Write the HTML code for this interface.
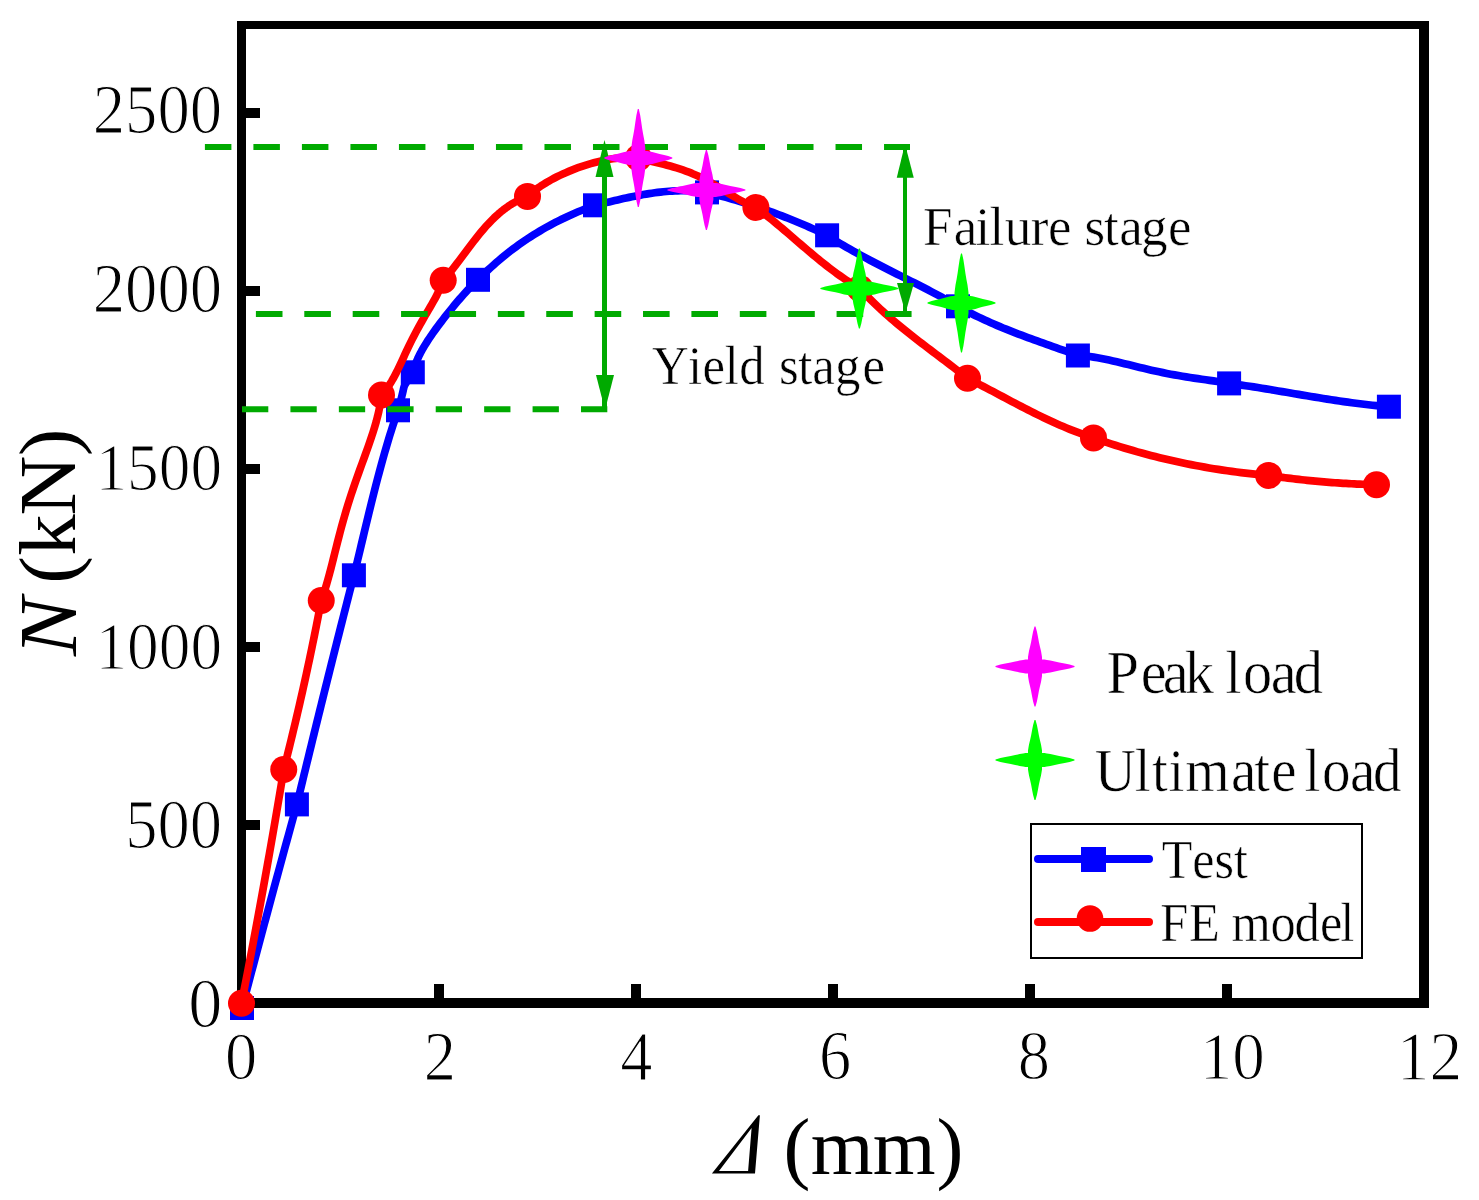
<!DOCTYPE html><html><head><meta charset="utf-8"><style>html,body{margin:0;padding:0;background:#fff;width:1479px;height:1200px;overflow:hidden}svg{display:block}text{font-family:"Liberation Serif",serif;fill:#000}</style></head><body>
<svg width="1479" height="1200" viewBox="0 0 1479 1200">
<rect x="0" y="0" width="1479" height="1200" fill="#fff"/>
<g fill="#000">
<rect x="237" y="21" width="1192" height="8"/>
<rect x="237" y="21" width="9" height="987"/>
<rect x="1419" y="21" width="10" height="987"/>
<rect x="237" y="998" width="1192" height="10"/>
<rect x="434" y="984" width="10" height="14"/>
<rect x="631" y="984" width="10" height="14"/>
<rect x="828" y="984" width="10" height="14"/>
<rect x="1025" y="984" width="10" height="14"/>
<rect x="1222" y="984" width="10" height="14"/>
<rect x="246" y="820" width="14" height="10"/>
<rect x="246" y="642" width="14" height="10"/>
<rect x="246" y="464" width="14" height="10"/>
<rect x="246" y="286" width="14" height="10"/>
<rect x="246" y="108" width="14" height="10"/>
</g>
<path d="M242.00 1008.00 L243.38 1002.77 L244.75 997.54 L246.13 992.30 L247.51 987.07 L248.90 981.84 L250.28 976.61 L251.66 971.39 L253.05 966.16 L254.44 960.93 L255.83 955.70 L257.22 950.48 L258.62 945.25 L260.01 940.03 L261.41 934.80 L262.81 929.58 L264.21 924.36 L265.62 919.13 L267.02 913.91 L268.43 908.69 L269.83 903.47 L271.24 898.25 L272.65 893.03 L274.07 887.81 L275.48 882.59 L276.90 877.38 L278.31 872.16 L279.73 866.94 L281.16 861.73 L282.58 856.51 L284.00 851.30 L285.43 846.09 L286.86 840.87 L288.29 835.66 L289.72 830.45 L291.15 825.24 L292.59 820.03 L294.02 814.82 L295.46 809.61 L296.90 804.40 L298.32 798.51 L299.74 792.63 L301.16 786.74 L302.59 780.85 L304.01 774.97 L305.44 769.08 L306.87 763.20 L308.31 757.32 L309.74 751.44 L311.18 745.55 L312.62 739.67 L314.07 733.79 L315.51 727.91 L316.96 722.03 L318.41 716.16 L319.86 710.28 L321.32 704.40 L322.77 698.53 L324.23 692.65 L325.69 686.78 L327.16 680.90 L328.62 675.03 L330.09 669.16 L331.56 663.29 L333.04 657.42 L334.51 651.55 L335.99 645.68 L337.47 639.81 L338.95 633.94 L340.44 628.07 L341.92 622.21 L343.41 616.34 L344.90 610.48 L346.40 604.61 L347.89 598.75 L349.39 592.88 L350.89 587.02 L352.39 581.16 L353.90 575.30 L354.95 571.05 L355.99 566.80 L357.02 562.55 L358.05 558.29 L359.08 554.04 L360.10 549.78 L361.12 545.51 L362.14 541.25 L363.16 536.99 L364.18 532.72 L365.21 528.46 L366.23 524.19 L367.26 519.93 L368.29 515.66 L369.32 511.40 L370.37 507.14 L371.41 502.88 L372.47 498.62 L373.54 494.36 L374.61 490.11 L375.69 485.86 L376.79 481.62 L377.90 477.37 L379.02 473.14 L380.15 468.90 L381.30 464.67 L382.47 460.45 L383.65 456.23 L384.85 452.02 L386.07 447.82 L387.31 443.62 L388.56 439.42 L389.84 435.24 L391.14 431.06 L392.46 426.89 L393.81 422.73 L395.18 418.58 L396.58 414.43 L398.00 410.30 L398.72 407.80 L399.37 405.49 L399.96 403.36 L400.49 401.41 L400.96 399.63 L401.39 398.01 L401.76 396.53 L402.09 395.19 L402.38 393.98 L402.64 392.89 L402.86 391.91 L403.06 391.03 L403.24 390.24 L403.39 389.54 L403.53 388.92 L403.66 388.35 L403.78 387.85 L403.90 387.39 L404.02 386.97 L404.14 386.58 L404.28 386.20 L404.42 385.84 L404.59 385.47 L404.77 385.10 L404.98 384.72 L405.22 384.30 L405.49 383.85 L405.80 383.35 L406.15 382.80 L406.54 382.19 L406.99 381.50 L407.49 380.73 L408.04 379.88 L408.66 378.92 L409.34 377.85 L410.09 376.66 L410.91 375.35 L411.82 373.90 L412.80 372.30 L413.60 369.46 L414.51 366.66 L415.51 363.91 L416.60 361.20 L417.78 358.52 L419.03 355.89 L420.34 353.28 L421.72 350.71 L423.16 348.17 L424.65 345.65 L426.18 343.16 L427.76 340.69 L429.37 338.24 L431.01 335.81 L432.68 333.40 L434.38 331.01 L436.10 328.63 L437.84 326.26 L439.60 323.91 L441.37 321.57 L443.15 319.25 L444.95 316.94 L446.76 314.63 L448.59 312.34 L450.42 310.07 L452.26 307.80 L454.12 305.55 L455.99 303.31 L457.87 301.08 L459.77 298.87 L461.69 296.67 L463.62 294.49 L465.58 292.33 L467.57 290.18 L469.58 288.06 L471.62 285.95 L473.71 283.88 L475.83 281.82 L478.00 279.80 L480.57 277.21 L483.16 274.66 L485.77 272.14 L488.40 269.66 L491.06 267.21 L493.74 264.80 L496.44 262.42 L499.17 260.08 L501.92 257.78 L504.69 255.51 L507.49 253.28 L510.30 251.08 L513.14 248.92 L516.01 246.80 L518.89 244.71 L521.80 242.66 L524.73 240.64 L527.69 238.66 L530.67 236.71 L533.67 234.80 L536.69 232.93 L539.73 231.09 L542.80 229.28 L545.89 227.52 L549.01 225.79 L552.14 224.09 L555.30 222.43 L558.49 220.81 L561.69 219.22 L564.92 217.66 L568.17 216.15 L571.44 214.67 L574.74 213.22 L578.06 211.81 L581.40 210.44 L584.77 209.10 L588.16 207.80 L591.57 206.53 L595.00 205.30 L597.82 204.62 L600.65 203.94 L603.47 203.26 L606.30 202.58 L609.13 201.90 L611.97 201.22 L614.80 200.56 L617.64 199.90 L620.48 199.25 L623.32 198.61 L626.16 197.98 L629.01 197.37 L631.86 196.77 L634.71 196.19 L637.56 195.63 L640.42 195.10 L643.28 194.58 L646.14 194.09 L649.01 193.63 L651.87 193.19 L654.74 192.78 L657.62 192.41 L660.50 192.07 L663.38 191.76 L666.26 191.49 L669.15 191.25 L672.04 191.06 L674.93 190.90 L677.83 190.79 L680.73 190.72 L683.63 190.70 L686.54 190.73 L689.45 190.81 L692.37 190.94 L695.28 191.12 L698.21 191.35 L701.13 191.64 L704.06 191.99 L707.00 192.40 L710.19 193.19 L713.38 194.00 L716.56 194.83 L719.74 195.67 L722.91 196.53 L726.07 197.40 L729.23 198.29 L732.38 199.20 L735.53 200.12 L738.67 201.06 L741.80 202.01 L744.93 202.99 L748.05 203.97 L751.17 204.98 L754.28 206.00 L757.38 207.03 L760.48 208.08 L763.57 209.15 L766.66 210.23 L769.74 211.33 L772.81 212.45 L775.88 213.58 L778.94 214.73 L781.99 215.90 L785.04 217.08 L788.09 218.27 L791.12 219.49 L794.16 220.71 L797.18 221.96 L800.20 223.22 L803.21 224.50 L806.22 225.79 L809.22 227.10 L812.22 228.43 L815.20 229.77 L818.19 231.13 L821.16 232.50 L824.14 233.89 L827.10 235.30 L830.32 237.38 L833.55 239.42 L836.80 241.43 L840.07 243.42 L843.35 245.37 L846.65 247.31 L849.95 249.21 L853.28 251.10 L856.61 252.96 L859.95 254.80 L863.31 256.63 L866.67 258.43 L870.04 260.23 L873.42 262.01 L876.80 263.77 L880.20 265.53 L883.59 267.27 L886.99 269.01 L890.40 270.74 L893.81 272.47 L897.21 274.19 L900.62 275.91 L904.04 277.63 L907.45 279.35 L910.86 281.08 L914.26 282.80 L917.67 284.54 L921.07 286.28 L924.46 288.03 L927.85 289.78 L931.24 291.55 L934.62 293.34 L937.99 295.13 L941.35 296.95 L944.70 298.78 L948.04 300.63 L951.37 302.49 L954.69 304.39 L958.00 306.30 L960.91 307.95 L963.84 309.56 L966.79 311.14 L969.74 312.69 L972.71 314.21 L975.69 315.70 L978.68 317.16 L981.69 318.59 L984.70 319.99 L987.73 321.37 L990.76 322.73 L993.81 324.07 L996.86 325.38 L999.93 326.67 L1003.00 327.94 L1006.08 329.19 L1009.16 330.43 L1012.25 331.65 L1015.35 332.85 L1018.46 334.05 L1021.57 335.22 L1024.68 336.39 L1027.80 337.55 L1030.92 338.69 L1034.05 339.83 L1037.18 340.96 L1040.31 342.08 L1043.44 343.20 L1046.58 344.32 L1049.71 345.43 L1052.85 346.54 L1055.98 347.65 L1059.12 348.76 L1062.25 349.87 L1065.39 350.99 L1068.52 352.11 L1071.65 353.23 L1074.78 354.36 L1077.90 355.50 L1081.86 355.72 L1085.80 356.07 L1089.72 356.53 L1093.62 357.08 L1097.51 357.72 L1101.39 358.43 L1105.25 359.20 L1109.11 360.02 L1112.96 360.89 L1116.81 361.79 L1120.65 362.71 L1124.48 363.65 L1128.32 364.59 L1132.16 365.54 L1135.99 366.49 L1139.83 367.43 L1143.67 368.35 L1147.51 369.26 L1151.36 370.14 L1155.21 371.00 L1159.06 371.84 L1162.92 372.64 L1166.79 373.42 L1170.66 374.16 L1174.53 374.88 L1178.41 375.57 L1182.30 376.23 L1186.19 376.87 L1190.08 377.48 L1193.98 378.08 L1197.88 378.65 L1201.78 379.22 L1205.69 379.78 L1209.59 380.35 L1213.50 380.91 L1217.40 381.50 L1221.31 382.10 L1225.21 382.73 L1229.10 383.40 L1233.20 383.94 L1237.31 384.51 L1241.41 385.09 L1245.50 385.69 L1249.60 386.30 L1253.69 386.93 L1257.78 387.57 L1261.87 388.23 L1265.96 388.89 L1270.05 389.56 L1274.13 390.24 L1278.22 390.93 L1282.30 391.62 L1286.39 392.31 L1290.47 393.01 L1294.55 393.71 L1298.64 394.40 L1302.72 395.10 L1306.81 395.78 L1310.89 396.47 L1314.98 397.15 L1319.07 397.82 L1323.15 398.48 L1327.25 399.13 L1331.34 399.77 L1335.43 400.40 L1339.53 401.01 L1343.62 401.60 L1347.72 402.18 L1351.83 402.74 L1355.93 403.28 L1360.04 403.80 L1364.15 404.29 L1368.27 404.76 L1372.39 405.21 L1376.51 405.62 L1380.64 406.01 L1384.77 406.37 L1388.90 406.70" fill="none" stroke="#0000ff" stroke-width="7.7" stroke-linejoin="round"/>
<rect x="230.00" y="996.00" width="24" height="24" fill="#0000ff"/>
<rect x="284.90" y="792.40" width="24" height="24" fill="#0000ff"/>
<rect x="341.90" y="563.30" width="24" height="24" fill="#0000ff"/>
<rect x="386.00" y="398.30" width="24" height="24" fill="#0000ff"/>
<rect x="400.80" y="360.30" width="24" height="24" fill="#0000ff"/>
<rect x="466.00" y="267.80" width="24" height="24" fill="#0000ff"/>
<rect x="583.00" y="193.30" width="24" height="24" fill="#0000ff"/>
<rect x="695.00" y="180.40" width="24" height="24" fill="#0000ff"/>
<rect x="815.10" y="223.30" width="24" height="24" fill="#0000ff"/>
<rect x="946.00" y="294.30" width="24" height="24" fill="#0000ff"/>
<rect x="1065.90" y="343.50" width="24" height="24" fill="#0000ff"/>
<rect x="1217.10" y="371.40" width="24" height="24" fill="#0000ff"/>
<rect x="1376.90" y="394.70" width="24" height="24" fill="#0000ff"/>
<path d="M241.50 1003.30 L242.67 997.32 L243.84 991.34 L245.01 985.35 L246.17 979.37 L247.33 973.39 L248.48 967.40 L249.62 961.42 L250.76 955.43 L251.90 949.44 L253.03 943.46 L254.16 937.47 L255.28 931.48 L256.40 925.49 L257.51 919.50 L258.62 913.51 L259.72 907.52 L260.82 901.52 L261.91 895.53 L263.00 889.53 L264.08 883.54 L265.16 877.54 L266.23 871.55 L267.30 865.55 L268.37 859.55 L269.43 853.55 L270.48 847.56 L271.53 841.56 L272.58 835.55 L273.62 829.55 L274.65 823.55 L275.68 817.55 L276.71 811.55 L277.73 805.54 L278.74 799.54 L279.75 793.53 L280.76 787.52 L281.76 781.52 L282.76 775.51 L283.75 769.50 L284.85 765.20 L285.93 760.89 L287.02 756.58 L288.09 752.28 L289.16 747.97 L290.22 743.66 L291.27 739.34 L292.32 735.03 L293.36 730.71 L294.39 726.39 L295.42 722.07 L296.44 717.75 L297.45 713.43 L298.45 709.11 L299.45 704.78 L300.44 700.46 L301.42 696.13 L302.40 691.80 L303.36 687.46 L304.33 683.13 L305.28 678.80 L306.23 674.46 L307.17 670.12 L308.10 665.78 L309.03 661.44 L309.95 657.10 L310.86 652.75 L311.76 648.41 L312.66 644.06 L313.55 639.71 L314.44 635.36 L315.31 631.01 L316.18 626.66 L317.04 622.30 L317.90 617.94 L318.75 613.58 L319.59 609.22 L320.42 604.86 L321.25 600.50 L323.08 595.31 L324.79 590.08 L326.40 584.82 L327.92 579.54 L329.37 574.24 L330.77 568.92 L332.14 563.60 L333.48 558.26 L334.81 552.93 L336.14 547.59 L337.48 542.26 L338.85 536.93 L340.24 531.61 L341.67 526.30 L343.14 521.00 L344.65 515.71 L346.20 510.44 L347.80 505.17 L349.46 499.92 L351.15 494.69 L352.89 489.46 L354.67 484.25 L356.49 479.05 L358.34 473.86 L360.20 468.67 L362.08 463.49 L363.97 458.31 L365.84 453.14 L367.70 447.95 L369.52 442.77 L371.29 437.57 L373.00 432.35 L374.62 427.12 L376.15 421.86 L377.55 416.57 L378.81 411.24 L379.90 405.88 L380.81 400.47 L381.50 395.00 L383.78 392.44 L385.91 389.79 L387.89 387.07 L389.76 384.28 L391.52 381.43 L393.19 378.54 L394.78 375.61 L396.32 372.64 L397.81 369.65 L399.26 366.63 L400.69 363.61 L402.10 360.57 L403.50 357.53 L404.91 354.49 L406.32 351.45 L407.75 348.42 L409.19 345.40 L410.66 342.40 L412.15 339.40 L413.67 336.42 L415.22 333.45 L416.79 330.50 L418.39 327.56 L420.02 324.64 L421.67 321.73 L423.34 318.83 L425.02 315.93 L426.71 313.05 L428.41 310.16 L430.09 307.27 L431.76 304.37 L433.41 301.46 L435.02 298.53 L436.58 295.58 L438.08 292.59 L439.51 289.57 L440.85 286.51 L442.08 283.38 L443.20 280.20 L445.21 277.95 L447.19 275.67 L449.15 273.34 L451.09 270.97 L453.00 268.58 L454.91 266.15 L456.80 263.71 L458.68 261.24 L460.55 258.76 L462.42 256.26 L464.29 253.76 L466.16 251.25 L468.04 248.75 L469.92 246.24 L471.81 243.75 L473.71 241.26 L475.63 238.80 L477.57 236.35 L479.53 233.92 L481.51 231.52 L483.52 229.16 L485.56 226.83 L487.63 224.53 L489.74 222.29 L491.89 220.08 L494.07 217.93 L496.30 215.84 L498.58 213.80 L500.91 211.83 L503.28 209.92 L505.72 208.08 L508.21 206.32 L510.76 204.63 L513.38 203.03 L516.06 201.52 L518.81 200.09 L521.63 198.76 L524.53 197.53 L527.50 196.40 L529.47 194.63 L531.54 192.88 L533.71 191.14 L535.98 189.43 L538.33 187.75 L540.77 186.09 L543.29 184.46 L545.89 182.86 L548.55 181.29 L551.28 179.76 L554.07 178.26 L556.92 176.79 L559.83 175.37 L562.77 173.99 L565.77 172.64 L568.80 171.35 L571.86 170.09 L574.95 168.89 L578.07 167.73 L581.21 166.63 L584.36 165.58 L587.52 164.58 L590.69 163.64 L593.86 162.76 L597.03 161.94 L600.18 161.18 L603.33 160.48 L606.46 159.85 L609.56 159.28 L612.64 158.78 L615.69 158.36 L618.70 158.00 L621.68 157.72 L624.60 157.52 L627.48 157.39 L630.30 157.35 L633.07 157.38 L635.77 157.50 L638.40 157.70 L641.51 158.63 L644.66 159.50 L647.83 160.34 L651.02 161.15 L654.22 161.94 L657.43 162.74 L660.64 163.53 L663.85 164.34 L667.05 165.18 L670.24 166.05 L673.41 166.95 L676.57 167.90 L679.70 168.90 L682.82 169.95 L685.91 171.06 L688.98 172.22 L692.02 173.44 L695.03 174.73 L698.02 176.07 L700.98 177.48 L703.92 178.94 L706.83 180.45 L709.72 182.01 L712.59 183.62 L715.44 185.27 L718.28 186.96 L721.11 188.67 L723.92 190.39 L726.74 192.13 L729.55 193.87 L732.37 195.59 L735.21 197.29 L738.06 198.96 L740.93 200.57 L743.83 202.13 L746.77 203.60 L749.76 204.99 L752.80 206.26 L755.90 207.40 L758.61 209.42 L761.31 211.47 L763.99 213.54 L766.65 215.63 L769.29 217.74 L771.92 219.87 L774.54 222.02 L777.15 224.18 L779.75 226.36 L782.34 228.55 L784.92 230.74 L787.50 232.95 L790.07 235.16 L792.64 237.37 L795.21 239.59 L797.78 241.80 L800.35 244.02 L802.92 246.23 L805.50 248.43 L808.08 250.63 L810.67 252.81 L813.26 254.99 L815.87 257.16 L818.49 259.30 L821.12 261.44 L823.76 263.55 L826.42 265.64 L829.09 267.72 L831.79 269.76 L834.50 271.78 L837.23 273.78 L839.99 275.74 L842.76 277.67 L845.57 279.57 L848.40 281.44 L851.25 283.26 L854.14 285.05 L857.05 286.80 L860.00 288.50 L862.44 291.18 L864.91 293.83 L867.40 296.44 L869.93 299.01 L872.48 301.56 L875.06 304.07 L877.66 306.56 L880.29 309.01 L882.94 311.44 L885.61 313.85 L888.30 316.23 L891.02 318.58 L893.75 320.92 L896.49 323.23 L899.25 325.53 L902.03 327.81 L904.82 330.07 L907.63 332.32 L910.44 334.55 L913.27 336.77 L916.11 338.98 L918.95 341.18 L921.80 343.37 L924.66 345.55 L927.52 347.73 L930.39 349.90 L933.26 352.07 L936.13 354.24 L939.00 356.40 L941.87 358.57 L944.74 360.74 L947.60 362.91 L950.47 365.08 L953.33 367.26 L956.18 369.45 L959.02 371.65 L961.86 373.85 L964.68 376.07 L967.50 378.30 L970.69 379.91 L973.88 381.53 L977.06 383.17 L980.23 384.81 L983.41 386.47 L986.57 388.13 L989.74 389.80 L992.90 391.47 L996.06 393.15 L999.22 394.83 L1002.39 396.51 L1005.55 398.18 L1008.71 399.86 L1011.87 401.53 L1015.04 403.20 L1018.21 404.86 L1021.38 406.51 L1024.56 408.15 L1027.75 409.78 L1030.94 411.40 L1034.13 413.00 L1037.33 414.59 L1040.54 416.16 L1043.76 417.72 L1046.99 419.25 L1050.23 420.77 L1053.48 422.26 L1056.74 423.73 L1060.01 425.17 L1063.29 426.59 L1066.59 427.97 L1069.89 429.33 L1073.22 430.66 L1076.56 431.96 L1079.91 433.22 L1083.28 434.45 L1086.67 435.64 L1090.08 436.79 L1093.50 437.90 L1097.87 439.43 L1102.24 440.92 L1106.62 442.39 L1111.01 443.83 L1115.41 445.24 L1119.81 446.61 L1124.21 447.96 L1128.63 449.28 L1133.05 450.57 L1137.47 451.83 L1141.90 453.06 L1146.34 454.26 L1150.79 455.43 L1155.24 456.57 L1159.70 457.68 L1164.16 458.76 L1168.63 459.81 L1173.11 460.83 L1177.59 461.82 L1182.08 462.78 L1186.58 463.71 L1191.08 464.61 L1195.59 465.49 L1200.10 466.33 L1204.63 467.14 L1209.15 467.93 L1213.69 468.68 L1218.23 469.40 L1222.78 470.10 L1227.33 470.76 L1231.89 471.40 L1236.46 472.00 L1241.03 472.57 L1245.61 473.12 L1250.19 473.64 L1254.79 474.12 L1259.38 474.58 L1263.99 475.00 L1268.60 475.40 L1271.35 475.81 L1274.11 476.21 L1276.86 476.60 L1279.62 476.98 L1282.38 477.36 L1285.13 477.72 L1287.89 478.08 L1290.65 478.42 L1293.41 478.76 L1296.17 479.09 L1298.93 479.41 L1301.69 479.72 L1304.45 480.02 L1307.22 480.31 L1309.98 480.59 L1312.74 480.87 L1315.51 481.13 L1318.27 481.39 L1321.04 481.64 L1323.81 481.88 L1326.57 482.11 L1329.34 482.33 L1332.11 482.54 L1334.88 482.74 L1337.65 482.93 L1340.42 483.12 L1343.19 483.29 L1345.96 483.46 L1348.74 483.62 L1351.51 483.77 L1354.28 483.91 L1357.06 484.04 L1359.83 484.16 L1362.61 484.27 L1365.39 484.37 L1368.16 484.47 L1370.94 484.56 L1373.72 484.63 L1376.50 484.70" fill="none" stroke="#ff0000" stroke-width="7.7" stroke-linejoin="round"/>
<circle cx="241.50" cy="1003.30" r="13.5" fill="#ff0000"/>
<circle cx="283.75" cy="769.50" r="13.5" fill="#ff0000"/>
<circle cx="321.25" cy="600.50" r="13.5" fill="#ff0000"/>
<circle cx="381.50" cy="395.00" r="13.5" fill="#ff0000"/>
<circle cx="443.20" cy="280.20" r="13.5" fill="#ff0000"/>
<circle cx="527.50" cy="196.40" r="13.5" fill="#ff0000"/>
<circle cx="638.40" cy="157.70" r="13.5" fill="#ff0000"/>
<circle cx="755.90" cy="207.40" r="13.5" fill="#ff0000"/>
<circle cx="860.00" cy="288.50" r="13.5" fill="#ff0000"/>
<circle cx="967.50" cy="378.30" r="13.5" fill="#ff0000"/>
<circle cx="1093.50" cy="437.90" r="13.5" fill="#ff0000"/>
<circle cx="1268.60" cy="475.40" r="13.5" fill="#ff0000"/>
<circle cx="1376.50" cy="484.70" r="13.5" fill="#ff0000"/>
<g stroke="#00aa00" stroke-width="6" fill="none">
<line x1="204.9" y1="147" x2="910" y2="147" stroke-dasharray="26.5 22.01"/>
<line x1="255.9" y1="314" x2="911.7" y2="314" stroke-dasharray="26.6 21.79"/>
<line x1="242" y1="409.3" x2="607.5" y2="409.3" stroke-dasharray="26.3 22.13"/>
</g>
<g fill="#00aa00">
<rect x="602" y="150" width="5" height="258"/>
<polygon points="604.5,140 613.5,177 595.5,177"/>
<polygon points="605,375 614,375 605,410 596,375"/>
<rect x="903" y="150" width="4" height="162"/>
<polygon points="905,144 913.75,177.75 896.75,177.75"/>
<polygon points="897,283 914,283 905.5,313"/>
</g>
<polygon points="638.80,109.00 640.20,115.36 641.20,121.73 642.20,128.73 643.20,134.45 644.30,140.18 644.90,144.64 645.30,147.82 645.30,151.00 645.30,151.00 647.35,151.00 649.39,151.40 652.25,152.00 655.94,153.10 659.62,154.10 664.12,155.10 668.21,156.10 672.30,157.50 672.30,158.50 668.21,159.90 664.12,160.90 659.62,161.90 655.94,162.90 652.25,164.00 649.39,164.60 647.35,165.00 645.30,165.00 645.30,165.00 645.30,168.18 644.90,171.36 644.30,175.82 643.20,181.55 642.20,187.27 641.20,194.27 640.20,200.64 638.80,207.00 637.80,207.00 636.40,200.64 635.40,194.27 634.40,187.27 633.40,181.55 632.30,175.82 631.70,171.36 631.30,168.18 631.30,165.00 631.30,165.00 629.25,165.00 627.21,164.60 624.35,164.00 620.66,162.90 616.98,161.90 612.48,160.90 608.39,159.90 604.30,158.50 604.30,157.50 608.39,156.10 612.48,155.10 616.98,154.10 620.66,153.10 624.35,152.00 627.21,151.40 629.25,151.00 631.30,151.00 631.30,151.00 631.30,147.82 631.70,144.64 632.30,140.18 633.40,134.45 634.40,128.73 635.40,121.73 636.40,115.36 637.80,109.00" fill="#ff00ff"/>
<polygon points="706.90,149.90 708.30,154.90 709.30,159.90 710.30,165.40 711.30,169.90 712.40,174.40 713.00,177.90 713.40,180.40 713.40,182.90 713.40,182.90 715.82,182.90 718.25,183.30 721.64,183.90 726.01,185.00 730.37,186.00 735.70,187.00 740.55,188.00 745.40,189.40 745.40,190.40 740.55,191.80 735.70,192.80 730.37,193.80 726.01,194.80 721.64,195.90 718.25,196.50 715.82,196.90 713.40,196.90 713.40,196.90 713.40,199.40 713.00,201.90 712.40,205.40 711.30,209.90 710.30,214.40 709.30,219.90 708.30,224.90 706.90,229.90 705.90,229.90 704.50,224.90 703.50,219.90 702.50,214.40 701.50,209.90 700.40,205.40 699.80,201.90 699.40,199.40 699.40,196.90 699.40,196.90 696.98,196.90 694.55,196.50 691.16,195.90 686.79,194.80 682.43,193.80 677.10,192.80 672.25,191.80 667.40,190.40 667.40,189.40 672.25,188.00 677.10,187.00 682.43,186.00 686.79,185.00 691.16,183.90 694.55,183.30 696.98,182.90 699.40,182.90 699.40,182.90 699.40,180.40 699.80,177.90 700.40,174.40 701.50,169.90 702.50,165.40 703.50,159.90 704.50,154.90 705.90,149.90" fill="#ff00ff"/>
<polygon points="859.90,248.40 861.30,253.40 862.30,258.40 863.30,263.90 864.30,268.40 865.40,272.90 866.00,276.40 866.40,278.90 866.40,281.40 866.40,281.40 868.82,281.40 871.25,281.80 874.64,282.40 879.01,283.50 883.37,284.50 888.70,285.50 893.55,286.50 898.40,287.90 898.40,288.90 893.55,290.30 888.70,291.30 883.37,292.30 879.01,293.30 874.64,294.40 871.25,295.00 868.82,295.40 866.40,295.40 866.40,295.40 866.40,297.90 866.00,300.40 865.40,303.90 864.30,308.40 863.30,312.90 862.30,318.40 861.30,323.40 859.90,328.40 858.90,328.40 857.50,323.40 856.50,318.40 855.50,312.90 854.50,308.40 853.40,303.90 852.80,300.40 852.40,297.90 852.40,295.40 852.40,295.40 849.98,295.40 847.55,295.00 844.16,294.40 839.79,293.30 835.43,292.30 830.10,291.30 825.25,290.30 820.40,288.90 820.40,287.90 825.25,286.50 830.10,285.50 835.43,284.50 839.79,283.50 844.16,282.40 847.55,281.80 849.98,281.40 852.40,281.40 852.40,281.40 852.40,278.90 852.80,276.40 853.40,272.90 854.50,268.40 855.50,263.90 856.50,258.40 857.50,253.40 858.90,248.40" fill="#00ff00"/>
<polygon points="962.00,253.40 963.40,259.84 964.40,266.28 965.40,273.36 966.40,279.16 967.50,284.95 968.10,289.46 968.50,292.68 968.50,295.90 968.50,295.90 970.55,295.90 972.59,296.30 975.45,296.90 979.14,298.00 982.82,299.00 987.32,300.00 991.41,301.00 995.50,302.40 995.50,303.40 991.41,304.80 987.32,305.80 982.82,306.80 979.14,307.80 975.45,308.90 972.59,309.50 970.55,309.90 968.50,309.90 968.50,309.90 968.50,313.12 968.10,316.34 967.50,320.85 966.40,326.64 965.40,332.44 964.40,339.52 963.40,345.96 962.00,352.40 961.00,352.40 959.60,345.96 958.60,339.52 957.60,332.44 956.60,326.64 955.50,320.85 954.90,316.34 954.50,313.12 954.50,309.90 954.50,309.90 952.45,309.90 950.41,309.50 947.55,308.90 943.86,307.80 940.18,306.80 935.68,305.80 931.59,304.80 927.50,303.40 927.50,302.40 931.59,301.00 935.68,300.00 940.18,299.00 943.86,298.00 947.55,296.90 950.41,296.30 952.45,295.90 954.50,295.90 954.50,295.90 954.50,292.68 954.90,289.46 955.50,284.95 956.60,279.16 957.60,273.36 958.60,266.28 959.60,259.84 961.00,253.40" fill="#00ff00"/>
<text transform="matrix(0.64737 0 0 0.69231 92.663 133.308)" font-size="100" style="" stroke="#fff" stroke-width="1.80">2500</text>
<text transform="matrix(0.64737 0 0 0.68923 92.663 312.111)" font-size="100" style="" stroke="#fff" stroke-width="1.80">2000</text>
<text transform="matrix(0.63297 0 0 0.68182 95.470 490.218)" font-size="100" style="" stroke="#fff" stroke-width="1.80">1500</text>
<text transform="matrix(0.63297 0 0 0.68182 95.470 669.018)" font-size="100" style="" stroke="#fff" stroke-width="1.80">1000</text>
<text transform="matrix(0.64565 0 0 0.69231 125.280 848.308)" font-size="100" style="" stroke="#fff" stroke-width="1.80">500</text>
<text transform="matrix(0.68250 0 0 0.69077 188.287 1026.909)" font-size="100" style="" stroke="#fff" stroke-width="1.80">0</text>
<text transform="matrix(0.64500 0 0 0.68154 225.075 1078.818)" font-size="100" stroke="#fff" stroke-width="1.80">0</text>
<text transform="matrix(0.64500 0 0 0.69365 423.647 1079.594)" font-size="100" stroke="#fff" stroke-width="1.80">2</text>
<text transform="matrix(0.64500 0 0 0.69365 620.325 1079.594)" font-size="100" stroke="#fff" stroke-width="1.80">4</text>
<text transform="matrix(0.64500 0 0 0.69385 818.903 1079.206)" font-size="100" stroke="#fff" stroke-width="1.80">6</text>
<text transform="matrix(0.64500 0 0 0.69692 1017.825 1079.203)" font-size="100" stroke="#fff" stroke-width="1.80">8</text>
<text transform="matrix(0.65176 0 0 0.68636 1199.782 1079.214)" font-size="100" style="" stroke="#fff" stroke-width="1.80">10</text>
<text transform="matrix(0.65476 0 0 0.70000 1396.652 1080.100)" font-size="100" style="" stroke="#fff" stroke-width="1.80">12</text>
<path fill-rule="evenodd" fill="#000" d="M711.9 1173.6 L755 1173.6 L759.9 1115.2 L758.4 1115.2 Z M719 1170.9 L748.1 1170.9 L751.6 1128.1 Z"/>
<text transform="matrix(0.80748 0 0 0.80778 783.870 1173.737)" font-size="100" x="-0.36 33.45 110.23 189.06" y="0" style="" stroke="#fff" stroke-width="0.00">(mm)</text>
<text transform="matrix(0 -0.87917 0.81692 0 76.000 656.121)" font-size="100" style="font-style:italic">N</text>
<text transform="matrix(0 -0.83222 0.80000 0 75.200 584.329)" font-size="100" x="0.82 34.28 82.35 153.88" y="0" style="">(kN)</text>
<text transform="matrix(0.53060 0 0 0.54545 923.208 245.091)" font-size="100" x="-0.51 57.38 98.51 125.18 153.66 202.71 235.39 304.07 340.59 369.67 410.28 461.18" y="0" style="" stroke="#fff" stroke-width="1.00">Failurestage</text>
<text transform="matrix(0.50740 0 0 0.54659 651.785 383.968)" font-size="100" x="0.30 71.18 100.20 144.00 172.30 250.72 288.86 316.14 361.10 415.54" y="0" style="" stroke="#fff" stroke-width="1.00">Yieldstage</text>
<polygon points="1035.50,626.50 1036.90,631.50 1037.90,636.50 1038.90,642.00 1039.90,646.50 1041.00,651.00 1041.60,654.50 1042.00,657.00 1042.00,659.50 1042.00,659.50 1044.46,659.50 1046.92,659.90 1050.37,660.50 1054.80,661.60 1059.23,662.60 1064.65,663.60 1069.58,664.60 1074.50,666.00 1074.50,667.00 1069.58,668.40 1064.65,669.40 1059.23,670.40 1054.80,671.40 1050.37,672.50 1046.92,673.10 1044.46,673.50 1042.00,673.50 1042.00,673.50 1042.00,676.00 1041.60,678.50 1041.00,682.00 1039.90,686.50 1038.90,691.00 1037.90,696.50 1036.90,701.50 1035.50,706.50 1034.50,706.50 1033.10,701.50 1032.10,696.50 1031.10,691.00 1030.10,686.50 1029.00,682.00 1028.40,678.50 1028.00,676.00 1028.00,673.50 1028.00,673.50 1025.54,673.50 1023.08,673.10 1019.63,672.50 1015.20,671.40 1010.77,670.40 1005.35,669.40 1000.42,668.40 995.50,667.00 995.50,666.00 1000.42,664.60 1005.35,663.60 1010.77,662.60 1015.20,661.60 1019.63,660.50 1023.08,659.90 1025.54,659.50 1028.00,659.50 1028.00,659.50 1028.00,657.00 1028.40,654.50 1029.00,651.00 1030.10,646.50 1031.10,642.00 1032.10,636.50 1033.10,631.50 1034.50,626.50" fill="#ff00ff"/>
<polygon points="1035.50,720.00 1036.90,725.00 1037.90,730.00 1038.90,735.50 1039.90,740.00 1041.00,744.50 1041.60,748.00 1042.00,750.50 1042.00,753.00 1042.00,753.00 1044.46,753.00 1046.92,753.40 1050.37,754.00 1054.80,755.10 1059.23,756.10 1064.65,757.10 1069.58,758.10 1074.50,759.50 1074.50,760.50 1069.58,761.90 1064.65,762.90 1059.23,763.90 1054.80,764.90 1050.37,766.00 1046.92,766.60 1044.46,767.00 1042.00,767.00 1042.00,767.00 1042.00,769.50 1041.60,772.00 1041.00,775.50 1039.90,780.00 1038.90,784.50 1037.90,790.00 1036.90,795.00 1035.50,800.00 1034.50,800.00 1033.10,795.00 1032.10,790.00 1031.10,784.50 1030.10,780.00 1029.00,775.50 1028.40,772.00 1028.00,769.50 1028.00,767.00 1028.00,767.00 1025.54,767.00 1023.08,766.60 1019.63,766.00 1015.20,764.90 1010.77,763.90 1005.35,762.90 1000.42,761.90 995.50,760.50 995.50,759.50 1000.42,758.10 1005.35,757.10 1010.77,756.10 1015.20,755.10 1019.63,754.00 1023.08,753.40 1025.54,753.00 1028.00,753.00 1028.00,753.00 1028.00,750.50 1028.40,748.00 1029.00,744.50 1030.10,740.00 1031.10,735.50 1032.10,730.00 1033.10,725.00 1034.50,720.00" fill="#00ff00"/>
<text transform="matrix(0.58368 0 0 0.61765 1106.349 692.900)" font-size="100" x="0.43 59.06 96.75 134.50 203.78 233.96 281.78 321.00" y="0" style="" stroke="#fff" stroke-width="1.00">Peakload</text>
<text transform="matrix(0.57061 0 0 0.61159 1094.388 791.288)" font-size="100" x="0.72 70.60 100.90 129.74 159.07 239.63 280.01 310.06 368.18 398.95 448.01 488.19" y="0" style="" stroke="#fff" stroke-width="1.00">Ultimateload</text>
<rect x="1031" y="824" width="331" height="134" fill="none" stroke="#000" stroke-width="2"/>
<line x1="1038" y1="859" x2="1149" y2="859" stroke="#0000ff" stroke-width="8" stroke-linecap="round"/>
<rect x="1081" y="847" width="25" height="25" fill="#0000ff"/>
<line x1="1038" y1="922" x2="1149" y2="922" stroke="#ff0000" stroke-width="8" stroke-linecap="round"/>
<circle cx="1090" cy="918.5" r="13.3" fill="#ff0000"/>
<text transform="matrix(0.50156 0 0 0.54531 1162.797 878.000)" font-size="100" x="-2.30 58.74 103.32 141.83" y="0" style="" stroke="#fff" stroke-width="1.00">Test</text>
<text transform="matrix(0.50491 0 0 0.53971 1160.585 940.500)" font-size="100" x="-0.87 56.49 140.50 217.84 265.37 315.50 355.91" y="0" style="" stroke="#fff" stroke-width="1.00">FEmodel</text>
</svg></body></html>
